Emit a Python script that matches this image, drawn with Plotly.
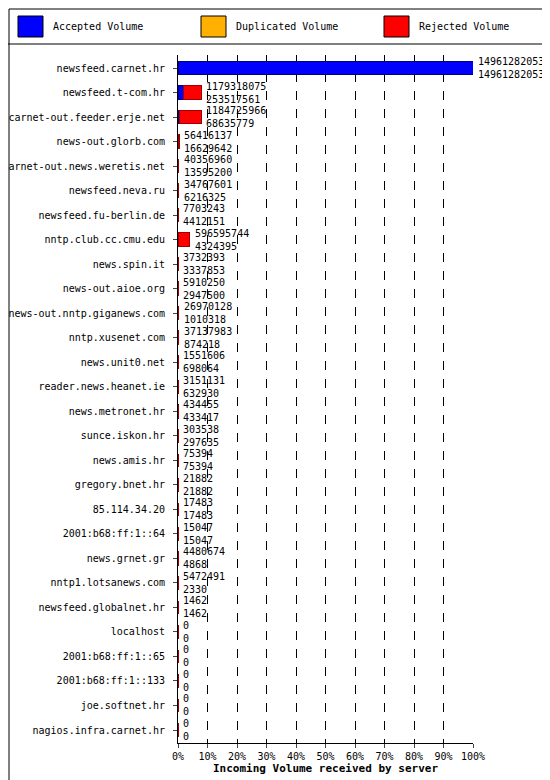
import plotly.graph_objects as go

servers = ["newsfeed.carnet.hr", "newsfeed.t-com.hr", "carnet-out.feeder.erje.net",
           "news-out.glorb.com", "carnet-out.news.weretis.net", "newsfeed.neva.ru",
           "newsfeed.fu-berlin.de", "nntp.club.cc.cmu.edu", "news.spin.it",
           "news-out.aioe.org", "news-out.nntp.giganews.com", "nntp.xusenet.com",
           "news.unit0.net", "reader.news.heanet.ie", "news.metronet.hr",
           "sunce.iskon.hr", "news.amis.hr", "gregory.bnet.hr", "85.114.34.20",
           "2001:b68:ff:1::64", "news.grnet.gr", "nntp1.lotsanews.com",
           "newsfeed.globalnet.hr", "localhost", "2001:b68:ff:1::65",
           "2001:b68:ff:1::133", "joe.softnet.hr", "nagios.infra.carnet.hr"]
total = [14961282053, 1179318075, 1184725966, 56416137, 40356960, 34767601,
         7703243, 596595744, 3732393, 5910250, 26970128, 37137983, 1551606,
         3151131, 434455, 303538, 75394, 21882, 17483, 15047, 4480674, 5472491,
         1462, 0, 0, 0, 0, 0]
accepted = [14961282053, 253517561, 68635779, 16629642, 13595200, 6216325,
            4412151, 4324395, 3337853, 2947500, 1010318, 874218, 698064,
            632930, 433417, 297635, 75394, 21882, 17483, 15047, 4868, 2330,
            1462, 0, 0, 0, 0, 0]

mx = max(total)
acc_pct = [a / mx * 100 for a in accepted]
rej_pct = [(t - a) / mx * 100 for t, a in zip(total, accepted)]
tot_pct = [t / mx * 100 for t in total]

W, H = 295, 688  # plot area in px

fig = go.Figure()
fig.add_trace(go.Bar(y=servers, x=acc_pct, orientation="h", marker_color="#0000ff",
                     marker_line=dict(color="#000080", width=1), name="Accepted Volume"))
fig.add_trace(go.Bar(y=servers, x=rej_pct, orientation="h", marker_color="#ff0000",
                     marker_line=dict(color="#a00000", width=1), name="Rejected Volume"))

for s, p, t, a in zip(servers, tot_pct, total, accepted):
    fig.add_annotation(x=min(p, 100), xshift=4, y=s, text=f"{t}<br>{a}", showarrow=False,
                       xanchor="left", align="left", font=dict(size=10),
                       xref="x", yref="y", borderpad=0)

# legend boxes
legend = [("Accepted Volume", "#0000ff"), ("Duplicated Volume", "#ffb000"),
          ("Rejected Volume", "#ff0000")]
for i, (name, col) in enumerate(legend):
    x0 = 10 + i * 183
    fig.add_shape(type="rect", xref="paper", yref="paper",
                  x0=(x0 - 170) / W, x1=(x0 + 25 - 170) / W,
                  y0=1 + (47 - 29) / H, y1=1 + (47 - 8) / H,
                  fillcolor=col, line=dict(color="black", width=1))
    fig.add_annotation(xref="paper", yref="paper", x=(x0 + 33 - 170) / W,
                       y=1 + (47 - 19) / H, yanchor="middle", text=name, showarrow=False,
                       xanchor="left", font=dict(size=10))
fig.add_shape(type="line", xref="paper", yref="paper", x0=-170 / W, x1=380 / W,
              y0=1 + (47 - 36) / H, y1=1 + (47 - 36) / H, line=dict(color="black", width=1))
fig.add_shape(type="rect", xref="paper", yref="paper", x0=-169 / W, x1=379 / W,
              y0=-44 / H, y1=1 + 46 / H, line=dict(color="black", width=1))

fig.update_layout(
    barmode="stack", width=550, height=780, showlegend=False,
    margin=dict(l=170, r=85, t=47, b=45, autoexpand=False),
    plot_bgcolor="white", paper_bgcolor="white", bargap=0.45,
    font=dict(family="DejaVu Sans Mono", size=10, color="black"),
)
fig.update_xaxes(range=[0, 100], tickvals=list(range(0, 101, 10)),
                 ticktext=[f"{v}%" for v in range(0, 101, 10)],
                 showgrid=True, gridcolor="black", griddash="dash", gridwidth=1,
                 showline=True, linecolor="black", ticks="outside", ticklen=4,
                 automargin=False,
                 title=dict(text="<b>Incoming Volume received by server</b>",
                            standoff=2, font=dict(size=11)))
fig.update_yaxes(autorange="reversed", showline=True, linecolor="black",
                 ticks="outside", ticklen=4, ticksuffix=" ", automargin=False)

fig.write_html("out.html")
